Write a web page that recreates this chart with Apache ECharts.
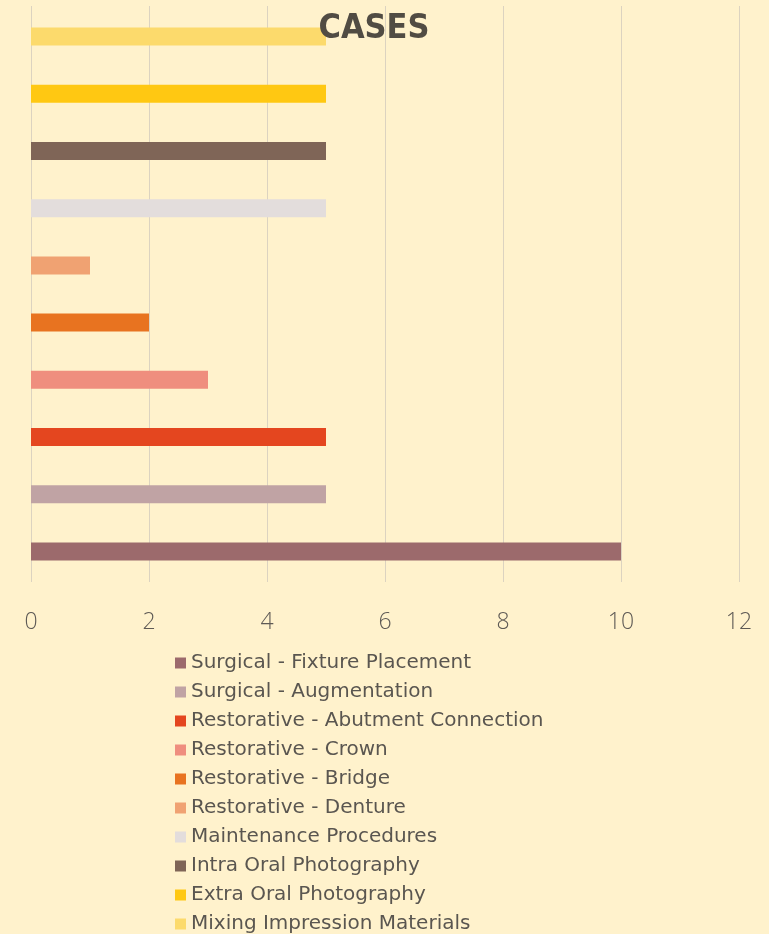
<!DOCTYPE html>
<html><head><meta charset="utf-8">
<script src="https://cdn.jsdelivr.net/npm/echarts@6/dist/echarts.min.js"></script>
<style>html,body{margin:0;padding:0;background:#FFF2CC;}#c{width:769px;height:934px;}</style>
</head><body><div id="c"></div>
<script>
const categories = ['Cases'];
const seriesNames = ['Surgical - Fixture Placement','Surgical - Augmentation','Restorative - Abutment Connection','Restorative - Crown','Restorative - Bridge','Restorative - Denture','Maintenance Procedures','Intra Oral Photography','Extra Oral Photography','Mixing Impression Materials'];
const seriesValues = [10,5,5,3,2,1,5,5,5,5];
const seriesColors = ['#9C6A6C','#C0A3A4','#E4461F','#EF8E7E','#E87320','#F0A272','#E3DDDC','#7F6557','#FFC812','#FCDA6C'];
const xTicks = [0,2,4,6,8,10,12];

const chart = echarts.init(document.getElementById('c'));
const order = seriesNames.map((n,i)=>i).reverse();
chart.setOption({
  backgroundColor:'#FFF2CC',
  animation:false,
  title:{text:'CASES',left:369,textAlign:'center',top:7,textStyle:{fontFamily:'DejaVu Sans Condensed, Liberation Sans Narrow, sans-serif',fontWeight:'bold',fontSize:34,color:'#514C43'}},
  legend:{orient:'vertical',left:170,top:648,height:300,itemGap:9,itemWidth:11,itemHeight:11,icon:'rect',
    data:seriesNames,textStyle:{fontFamily:'DejaVu Sans, sans-serif',fontSize:20,lineHeight:20,color:'#5A5650'}},
  grid:{left:31,right:30,top:6,bottom:352},
  xAxis:{type:'value',min:0,max:12,interval:2,axisLine:{show:false},axisTick:{show:false},
    splitLine:{lineStyle:{color:'#DCD3C0',width:1}},
    axisLabel:{margin:29,fontSize:23,color:'#5E5A55',fontFamily:'Open Sans, sans-serif',fontWeight:300}},
  yAxis:{type:'category',data:categories,axisLine:{show:false},axisTick:{show:false},axisLabel:{show:false}},
  series:order.map(i=>({name:seriesNames[i],type:'bar',data:[seriesValues[i]],barWidth:18,barGap:'218%',itemStyle:{color:seriesColors[i]}}))
});
</script></body></html>
